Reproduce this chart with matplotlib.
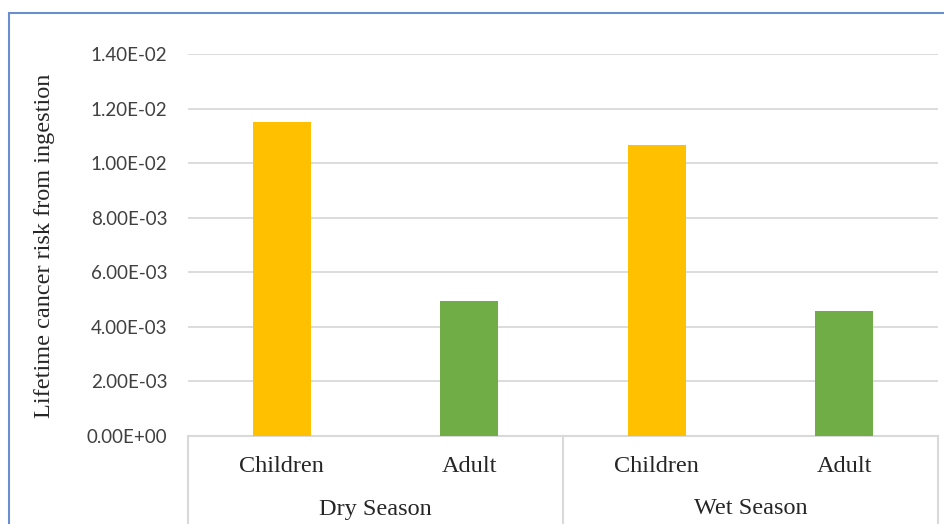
import matplotlib
matplotlib.use('Agg')
import matplotlib.pyplot as plt
from matplotlib.patches import Rectangle

# data
seasons = ['Dry Season', 'Wet Season']
groups = ['Children', 'Adult']
dry_values = [1.151e-2, 4.95e-3]
wet_values = [1.065e-2, 4.58e-3]
yticks = [0, 2e-3, 4e-3, 6e-3, 8e-3, 1e-2, 1.2e-2, 1.4e-2]

bar_colors = ['#FFC000', '#70AD47']

W, H = 945, 524
fig = plt.figure(figsize=(W / 100, H / 100), dpi=100)

# outer blue frame (only left and top edges visible in the crop)
fig.patches.append(Rectangle((9 / W, -0.1), 1.2, 1.1 - 13 / H, transform=fig.transFigure,
                             fill=False, edgecolor='#6A8FD0', linewidth=1.5))

ax = fig.add_axes([188 / W, 88 / H, 750 / W, 382 / H])

values = dry_values + wet_values
labels = groups + groups
colors = bar_colors + bar_colors
xs = list(range(len(values)))
ax.bar(xs, values, width=0.31, color=colors, zorder=3)

ax.set_xlim(-0.5, 3.5)
ax.set_ylim(0, 1.4e-2)
ax.set_yticks(yticks)
ax.set_yticklabels(['%.2E' % v for v in yticks], family='Lato', fontsize=13.5, color='#404040')
ax.tick_params(axis='y', length=0, pad=15)
ax.grid(axis='y', color='#D9D9D9', linewidth=1.3, zorder=0)
for s in ['top', 'right', 'left']:
    ax.spines[s].set_visible(False)
ax.spines['bottom'].set_color('#D9D9D9')
ax.spines['bottom'].set_linewidth(1.5)

ax.set_xticks([])
trans = ax.get_xaxis_transform()
for x, lab in zip(xs, labels):
    ax.text(x, -30 / 382, lab, transform=trans, ha='center', va='center',
            family='Liberation Serif', fontsize=17.5, color='#262626')
for i, s in enumerate(seasons):
    ax.text(2 * i + 0.5, -73 / 382, s, transform=trans, ha='center', va='center',
            family='Liberation Serif', fontsize=17.5, color='#262626')
for x in [-0.5, 1.5, 3.5]:
    ax.plot([x, x], [0, -0.3], transform=trans, color='#D9D9D9', linewidth=1.5, clip_on=False)

fig.text(45 / W, 1 - 246 / H, 'Lifetime cancer risk from ingestion', rotation=90,
         ha='center', va='center', family='Liberation Serif', fontsize=17.5, color='#262626')

fig.savefig('out.png', dpi=100)
